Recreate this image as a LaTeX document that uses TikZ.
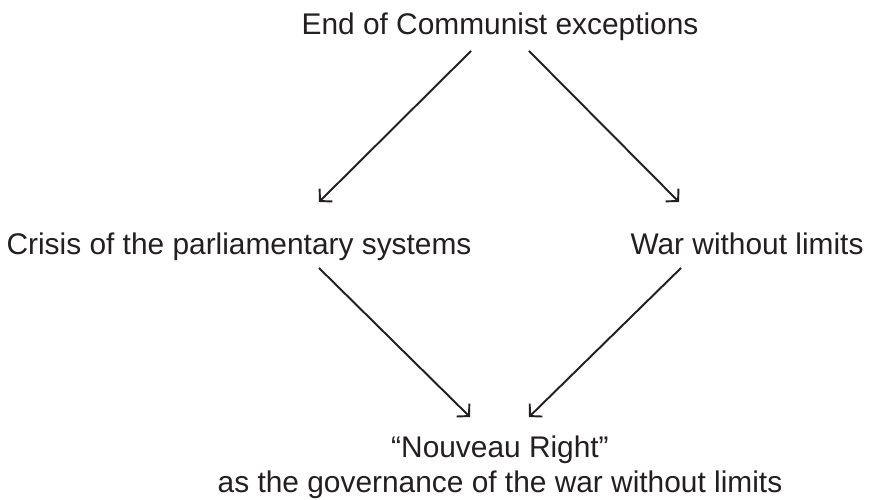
\documentclass[tikz,border=0pt]{standalone}
\usepackage{fontspec}
\setmainfont{Liberation Sans}
\usetikzlibrary{arrows.meta,calc}
\definecolor{inkcolor}{RGB}{35,31,32}

\begin{document}
\begin{tikzpicture}[
  stage/.style={
    text=inkcolor,
    inner sep=0pt,
    align=center,
    font=\fontsize{17}{19.4}\selectfont
  },
  link/.style={
    draw=inkcolor,
    line width=1.1pt,
    -{Straight Barb[length=1.7mm,width=3.6mm]}
  }
]
\useasboundingbox (0,0) rectangle (17.7,10);

% -------- Top --------
\node[stage, anchor=base] (top) at (10,9.3) {End of Communist exceptions};

% -------- Middle --------
\node[stage, anchor=base] (crisis) at (4.78,4.9) {Crisis of the parliamentary systems};
\node[stage, anchor=base] (war) at (14.94,4.9) {War without limits};

% -------- Bottom --------
\node[stage, anchor=north] (nouveau) at (10,1.28)
{“Nouveau Right”\\as the governance of the war without limits};

% -------- Arrows --------
\draw[link] ($(top.base)+(-0.58,-0.32)$) -- ($(crisis.base)+(1.6,1.06)$);
\draw[link] ($(top.base)+(0.58,-0.32)$) -- ($(war.base)+(-1.36,1.06)$);
\draw[link] ($(crisis.base)+(1.6,-0.26)$) -- ($(nouveau.north)+(-0.6,0.38)$);
\draw[link] ($(war.base)+(-1.32,-0.26)$) -- ($(nouveau.north)+(0.58,0.38)$);

\end{tikzpicture}
\end{document}
